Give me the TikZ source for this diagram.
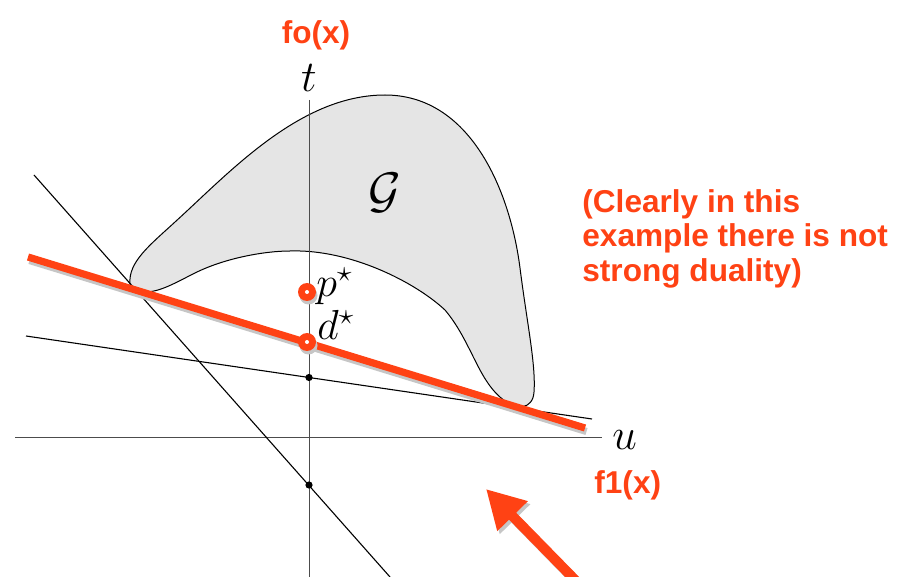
\RequirePackage{fix-cm}
\documentclass[tikz,border=0pt]{standalone}
\usepackage{fontspec}
\newfontfamily\orfont{Liberation Sans}
\usetikzlibrary{arrows.meta}
\definecolor{orng}{RGB}{255,66,20}
\definecolor{shad}{RGB}{198,198,198}
\definecolor{gfill}{RGB}{229,229,229}
\begin{document}
\begin{tikzpicture}[x=0.5pt,y=-0.5pt,
  thinline/.style={line width=0.55pt,black},
  axisline/.style={line width=0.5pt,black!70},
  olbl/.style={text=orng,font=\orfont\bfseries\fontsize{15.8}{17.25}\selectfont,inner sep=0pt},
  mlbl/.style={inner sep=0pt,font=\fontsize{22}{24}\selectfont},
  slbl/.style={inner sep=0pt,font=\fontsize{21}{23}\selectfont},
  glbl/.style={inner sep=0pt,font=\fontsize{25}{28}\selectfont},
  dotnode/.style={circle,fill=black,inner sep=0pt,minimum size=3.6pt},
  ocirc/.style={circle,fill=orng,inner sep=0pt,minimum size=9pt,
    path picture={\fill[white] (path picture bounding box.center) circle[radius=1pt];}},
  oline/.style={line width=3.6pt,orng},
  sline/.style={line width=3.6pt,shad},
  bigarrow/.style={line width=5pt,-{Triangle[length=19pt,width=20pt]}}
]
\useasboundingbox (0,0) rectangle (905,577);
\clip (0,0) rectangle (905,577);
% set G
\filldraw[fill=gfill,draw=black,line width=0.5pt]
  (130,284) .. controls (128,262) and (150,245) .. (175,222)
  .. controls (230,172) and (300,95) .. (385,95)
  .. controls (470,95) and (510,190) .. (520,268)
  .. controls (527,323) and (536,365) .. (534,392)
  .. controls (533,410) and (515,410) .. (505,401)
  .. controls (478,382) and (472,342) .. (445,310)
  .. controls (415,282) and (350,249) .. (290,251)
  .. controls (265,251) and (225,258) .. (195,273)
  .. controls (175,283) and (160,292) .. (145,292)
  .. controls (137,292) and (131,290) .. (130,284) -- cycle;
% coordinates
\coordinate (ax1) at (309,100);
\coordinate (ax2) at (309,580);
\coordinate (ux1) at (15,437);
\coordinate (ux2) at (602,437);
\coordinate (s1) at (34,175);
\coordinate (s2) at (390,577);
\coordinate (l1) at (26,336);
\coordinate (l2) at (592,419);
\coordinate (o1) at (28,257);
\coordinate (o2) at (585,428);
% axes and lines
\draw[axisline] (ax1) -- (ax2);
\draw[axisline] (ux1) -- (ux2);
\draw[thinline] (s1) -- (s2);
\draw[thinline] (l1) -- (l2);
\draw[sline] ([shift={(1.5,3.5)}]o1) -- ([shift={(1.5,3.5)}]o2);
\draw[oline] (o1) -- (o2);
% dots
\node[dotnode] (dA) at (309,377.5) {};
\node[dotnode] (dB) at (309,485) {};
% primal / dual points
\fill[shad] (308.5,295.5) circle[radius=4.5pt];
\fill[shad] (308.5,345.5) circle[radius=4.5pt];
\node[ocirc] (pstar) at (307,292) {};
\node[ocirc] (dstar) at (307,342) {};
% labels
\node[mlbl,anchor=base] (t) at (309,92) {$t$};
\node[mlbl,anchor=base west] (u) at (612,449) {$u$};
\node[slbl,anchor=base west] (pl) at (316,297) {$p^{\star}$};
\node[slbl,anchor=base west] (dl) at (317,340) {$d^{\star}$};
\node[glbl] (G) at (385,193) {$\mathcal{G}$};
\node[olbl,anchor=base] (fo) at (316,44) {fo(x)};
\node[olbl,anchor=base west] (f1) at (594,493) {f1(x)};
\node[olbl,align=left,anchor=north west] (note) at (582,189) {(Clearly in this\\example there is not\\strong duality)};
% arrow
\coordinate (atip) at (486,489);
\coordinate (atail) at (580,585);
\draw[bigarrow,shad] ([shift={(2.5,3)}]atail) -- ([shift={(2.5,3)}]atip);
\draw[bigarrow,orng] (atail) -- (atip);
\end{tikzpicture}
\end{document}
